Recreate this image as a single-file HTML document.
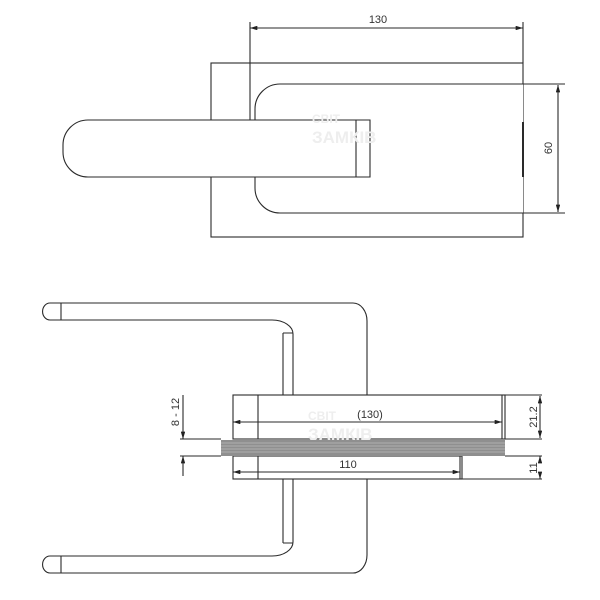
<!DOCTYPE html>
<html><head><meta charset="utf-8"><style>html,body{margin:0;padding:0;background:#fff}svg{display:block}</style></head>
<body>
<svg width="600" height="600" viewBox="0 0 600 600" xmlns="http://www.w3.org/2000/svg" font-family="Liberation Sans, sans-serif">
<defs>
<marker id="a" viewBox="0 0 10 6" refX="10" refY="3" markerWidth="8" markerHeight="4" orient="auto-start-reverse"><path d="M0,0L10,3L0,6z" fill="#222"/></marker>
</defs>
<g fill="none" stroke="#2a2a2a" stroke-width="1.1">
<rect x="211" y="63" width="312" height="174"/>
<path d="M523,84 H280 A25,25 0 0 0 255,109 V188 A25,25 0 0 0 280,213 H523" fill="#fff"/>
<path d="M370,120 H88 A25,25 0 0 0 63,145 V152 A25,25 0 0 0 88,177 H370 Z" fill="#fff"/>
<line x1="356" y1="120" x2="356" y2="177"/>
<line x1="523" y1="122" x2="523" y2="177" stroke-width="2"/>
<line x1="250" y1="22" x2="250" y2="120"/>
<line x1="523" y1="22" x2="523" y2="63"/>
<line x1="250" y1="28" x2="523" y2="28" marker-start="url(#a)" marker-end="url(#a)"/>
<line x1="523" y1="84" x2="565" y2="84"/>
<line x1="523" y1="213" x2="565" y2="213"/>
<line x1="558" y1="85" x2="558" y2="212" marker-start="url(#a)" marker-end="url(#a)"/>

<path d="M353,303 H50 A7,8 0 0 0 50,320 H272 A21,14 0 0 1 293,334 V395"/>
<path d="M353,303 A14,18 0 0 1 367,321 V395"/>
<path d="M283,333 V395 M283,333 H293"/>
<line x1="61" y1="303" x2="61" y2="320"/>
<path d="M353,573 H50 A7,8 0 0 1 50,556 H272 A21,14 0 0 0 293,542 V479"/>
<path d="M353,573 A14,18 0 0 0 367,555 V479"/>
<path d="M283,543 V479 M283,543 H293"/>
<line x1="61" y1="573" x2="61" y2="556"/>
<rect x="233" y="395" width="272" height="44" fill="#fff"/>
<line x1="258" y1="395" x2="258" y2="439"/>
<line x1="502" y1="395" x2="502" y2="439"/>
<rect x="233" y="456" width="229" height="23" fill="#fff"/>
<line x1="258" y1="456" x2="258" y2="479"/>
<line x1="460" y1="456" x2="460" y2="479"/>
<line x1="462" y1="479" x2="542" y2="479"/>
<line x1="505" y1="439" x2="542" y2="439"/>
<line x1="505" y1="395" x2="542" y2="395"/>
<line x1="505" y1="456" x2="542" y2="456"/>
</g>
<rect x="221" y="440" width="284" height="16" fill="#8f8f8f"/>
<g stroke="#cfcfcf" stroke-width="0.6">
<line x1="221" y1="443" x2="505" y2="443"/><line x1="221" y1="446" x2="505" y2="446"/><line x1="221" y1="449" x2="505" y2="449"/><line x1="221" y1="452" x2="505" y2="452"/>
</g>
<g fill="none" stroke="#2a2a2a" stroke-width="1.1">
<line x1="180" y1="439" x2="221" y2="439"/>
<line x1="180" y1="456" x2="221" y2="456"/>
<line x1="183" y1="395" x2="183" y2="439" marker-end="url(#a)"/>
<line x1="183" y1="476" x2="183" y2="456" marker-end="url(#a)"/>
<line x1="233" y1="422" x2="502" y2="422" marker-start="url(#a)" marker-end="url(#a)"/>
<line x1="233" y1="472" x2="460" y2="472" marker-start="url(#a)" marker-end="url(#a)"/>
<line x1="540" y1="396" x2="540" y2="438" marker-start="url(#a)" marker-end="url(#a)"/>
<line x1="540" y1="462" x2="540" y2="456" marker-end="url(#a)"/>
<line x1="540" y1="473" x2="540" y2="479" marker-end="url(#a)"/>
</g>
<g fill="#333" font-size="11">
<text x="378" y="23" text-anchor="middle">130</text>
<text x="0" y="0" text-anchor="middle" transform="translate(552,148) rotate(-90)">60</text>
<text x="370" y="418" text-anchor="middle">(130)</text>
<text x="348" y="468" text-anchor="middle">110</text>
<text x="0" y="0" text-anchor="middle" transform="translate(179,412) rotate(-90)">8 - 12</text>
<text x="0" y="0" text-anchor="middle" transform="translate(537,417) rotate(-90)">21.2</text>
<text x="0" y="0" text-anchor="middle" transform="translate(537,468) rotate(-90)">11</text>
</g>
<g fill="#eeeeee" font-weight="bold">
<text x="312" y="123" font-size="12">СВІТ</text>
<text x="312" y="143" font-size="17">ЗАМКІВ</text>
<text x="308" y="420" font-size="12">СВІТ</text>
<text x="308" y="440" font-size="17">ЗАМКІВ</text>
</g>
</svg>
</body></html>
